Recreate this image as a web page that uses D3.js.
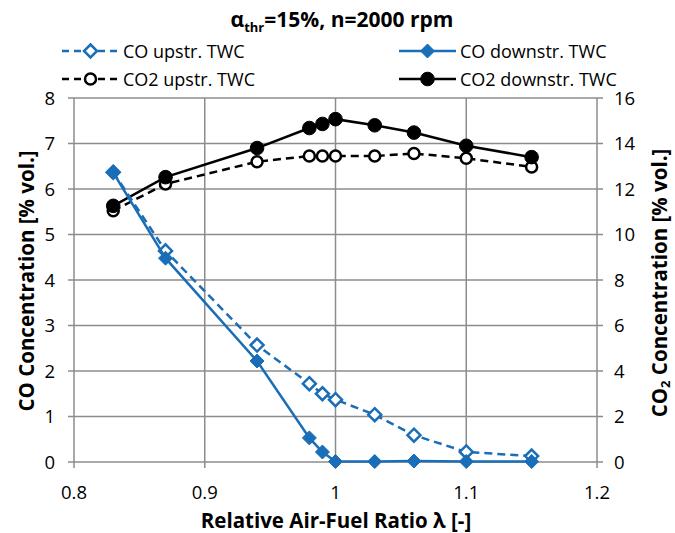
<!DOCTYPE html>
<html><head><meta charset="utf-8">
<script src="https://cdn.jsdelivr.net/npm/d3@7"></script>
<style>
body{margin:0;background:#fff;}
text{font-family:"Open Sans","Noto Sans",sans-serif;fill:#000;}
</style></head>
<body><svg id="c" width="675" height="533"></svg>
<script>
const lambda = [0.83, 0.87, 0.94, 0.98, 0.99, 1.0, 1.03, 1.06, 1.1, 1.15];
const coUp   = [6.37, 4.64, 2.57, 1.72, 1.50, 1.37, 1.04, 0.59, 0.22, 0.13];
const coDown = [6.36, 4.48, 2.22, 0.53, 0.22, 0.01, 0.01, 0.02, 0.01, 0.01];
const co2Up   = [11.04, 12.22, 13.2, 13.45, 13.45, 13.45, 13.45, 13.56, 13.35, 12.97];
const co2Down = [11.26, 12.52, 13.8, 14.68, 14.86, 15.07, 14.8, 14.48, 13.9, 13.4];
const xTicks = [0.8, 0.9, 1.0, 1.1, 1.2];
const yLeftTicks = [0,1,2,3,4,5,6,7,8];
const yRightTicks = [0,2,4,6,8,10,12,14,16];

const svg = d3.select("#c");
const L=74, R=597, T=98, B=462;
const x = d3.scaleLinear().domain([0.8,1.2]).range([L,R]);
const yL = d3.scaleLinear().domain([0,8]).range([B,T]);
const yR = d3.scaleLinear().domain([0,16]).range([B,T]);
const blue="#1a6db7", grid="#8c8c8c";

// grid
const g = svg.append("g");
g.selectAll(".hg").data(yLeftTicks).join("line")
 .attr("x1",L-6).attr("x2",R+6).attr("y1",d=>yL(d)).attr("y2",d=>yL(d))
 .attr("stroke",grid).attr("stroke-width",1.5);
g.selectAll(".vg").data(xTicks).join("line")
 .attr("x1",d=>x(d)).attr("x2",d=>x(d)).attr("y1",T).attr("y2",B+6)
 .attr("stroke",grid).attr("stroke-width",1.5);

// tick labels
const fs=18.5;
svg.append("g").selectAll("text").data(yLeftTicks).join("text")
 .attr("x",55).attr("y",d=>yL(d)+6.5).attr("text-anchor","end").attr("font-size",fs).text(d=>d);
svg.append("g").selectAll("text").data(yRightTicks).join("text")
 .attr("x",614).attr("y",d=>yR(d)+6.5).attr("text-anchor","start").attr("font-size",fs).text(d=>d);
svg.append("g").selectAll("text").data(xTicks).join("text")
 .attr("x",d=>x(d)).attr("y",499).attr("text-anchor","middle").attr("font-size",fs).text(d=>d);

// titles
const t = svg.append("text").attr("x",342).attr("y",27).attr("text-anchor","middle")
 .attr("font-size",21).attr("font-weight","bold");
t.append("tspan").text("α");
t.append("tspan").attr("font-size",13).attr("dy",5).text("thr");
t.append("tspan").attr("dy",-5).text("=15%, n=2000 rpm");

const tfs=20.5;
svg.append("text").attr("x",336).attr("y",528).attr("text-anchor","middle")
 .attr("font-size",tfs).attr("font-weight","bold").text("Relative Air-Fuel Ratio λ [-]");
svg.append("text").attr("transform","translate(34,281) rotate(-90)").attr("text-anchor","middle")
 .attr("font-size",tfs).attr("font-weight","bold").text("CO Concentration  [% vol.]");
const rt = svg.append("text").attr("transform","translate(667,283) rotate(-90)").attr("text-anchor","middle")
 .attr("font-size",tfs).attr("font-weight","bold");
rt.append("tspan").text("CO");
rt.append("tspan").attr("font-size",13).attr("dy",3).text("2");
rt.append("tspan").attr("dy",-3).text(" Concentration  [% vol.]");

// series
const series = [
 {name:"CO upstr. TWC", vals:coUp, y:yL, color:blue, dash:"8,5", marker:"diamond", filled:false},
 {name:"CO downstr. TWC", vals:coDown, y:yL, color:blue, dash:null, marker:"diamond", filled:true},
 {name:"CO2 upstr. TWC", vals:co2Up, y:yR, color:"#000", dash:"8,5", marker:"circle", filled:false},
 {name:"CO2 downstr. TWC", vals:co2Down, y:yR, color:"#000", dash:null, marker:"circle", filled:true}
];
function drawMarker(sel, s, cx, cy){
  if(s.marker==="diamond"){
    const r = s.filled?7:6.5;
    sel.append("path").attr("d",`M${cx},${cy-r}L${cx+r},${cy}L${cx},${cy+r}L${cx-r},${cy}Z`)
      .attr("fill",s.filled?s.color:"#fff").attr("stroke",s.color).attr("stroke-width",s.filled?1:2.5);
  } else {
    sel.append("circle").attr("cx",cx).attr("cy",cy).attr("r",s.filled?6.8:5.5)
      .attr("fill",s.filled?s.color:"#fff").attr("stroke",s.color).attr("stroke-width",s.filled?1:2.5);
  }
}
const order=[2,3,0,1];
order.forEach(i=>{
  const s=series[i];
  const line=d3.line().x((d,j)=>x(lambda[j])).y(d=>s.y(d));
  const p=svg.append("path").datum(s.vals).attr("d",line).attr("fill","none")
   .attr("stroke",s.color).attr("stroke-width",2.5);
  if(s.dash) p.attr("stroke-dasharray",s.dash);
  const mg=svg.append("g");
  s.vals.forEach((v,j)=>drawMarker(mg,s,x(lambda[j]),s.y(v)));
});

// legend
const leg=[{s:0,x:62,y:51},{s:1,x:399,y:51},{s:2,x:62,y:79},{s:3,x:399,y:79}];
leg.forEach(l=>{
  const s=series[l.s];
  const lg=svg.append("g");
  const ln=lg.append("line").attr("x1",l.x).attr("x2",l.x+57).attr("y1",l.y).attr("y2",l.y)
   .attr("stroke",s.color).attr("stroke-width",2.5);
  if(s.dash) ln.attr("stroke-dasharray","7,5");
  drawMarker(lg,s,l.x+28.5,l.y);
  lg.append("text").attr("x",l.x+61).attr("y",l.y+6.5).attr("font-size",18).text(s.name);
});
</script></body></html>
